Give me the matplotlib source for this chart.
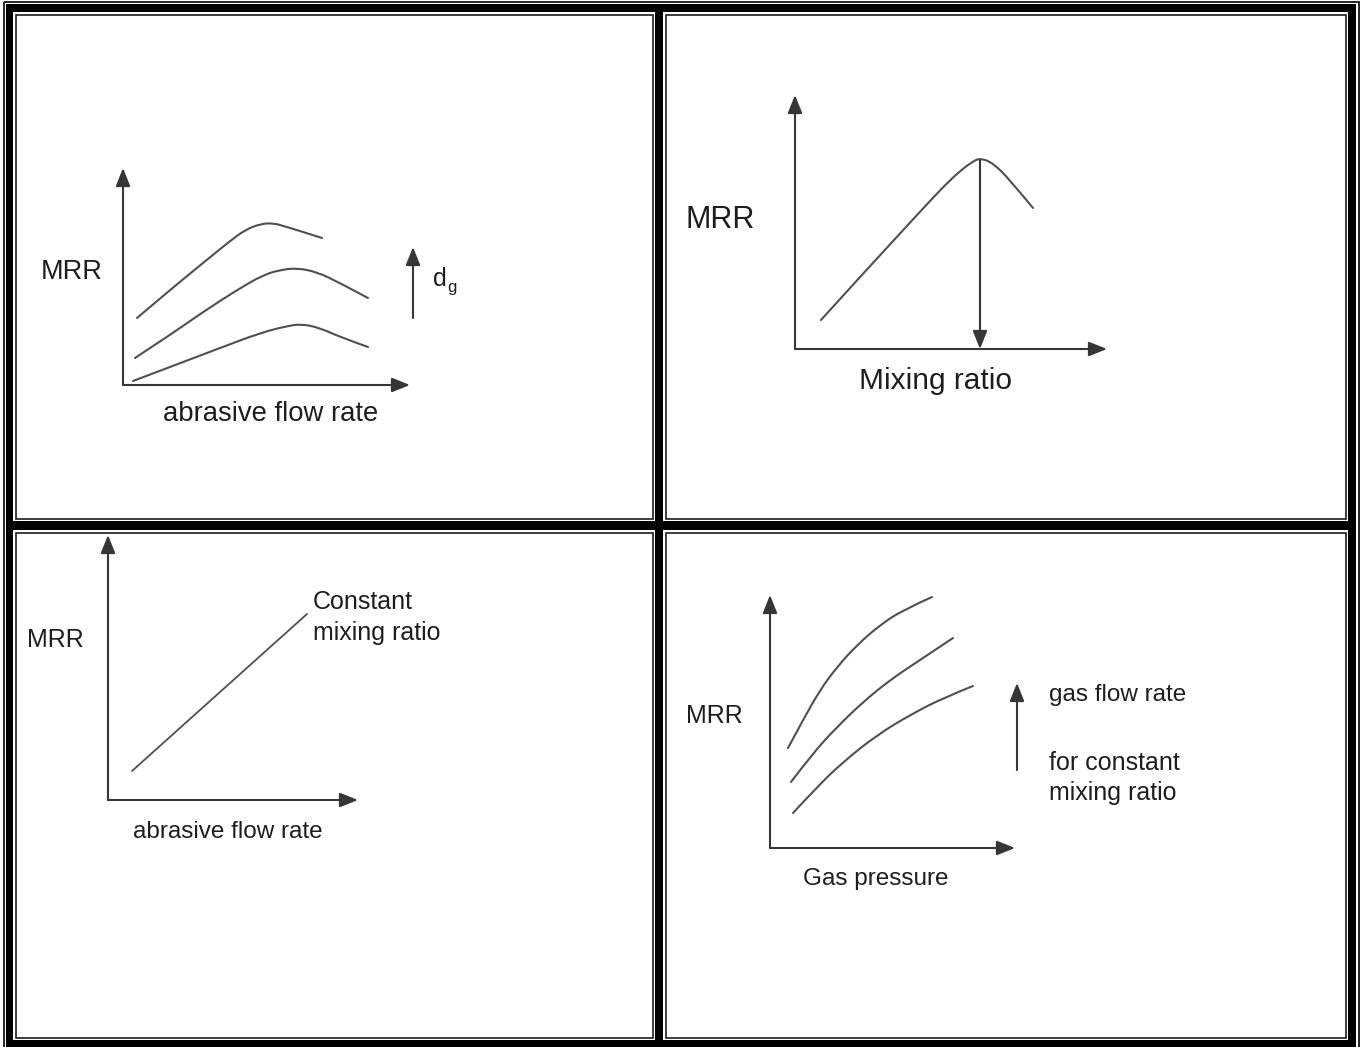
import matplotlib.pyplot as plt
from matplotlib.patches import Rectangle, PathPatch
from matplotlib.path import Path

# figure size in pixels
W, H = 1360, 1047

# --- data (pixel units, measured from each sketch's origin, y upwards) ---
# top-left: MRR vs abrasive flow rate for three grit sizes
tl_x_top = [14, 47, 80, 107, 122, 137, 150, 164, 180, 199]
tl_y_top = [67, 95, 122, 144, 155, 161, 162, 158, 153, 147]
tl_x_mid = [12, 47, 80, 114, 140, 157, 174, 194, 217, 245]
tl_y_mid = [27, 50, 73, 95, 110, 115, 117, 113, 102, 87]
tl_x_low = [10, 47, 97, 137, 164, 179, 197, 217, 245]
tl_y_low = [4, 18, 37, 52, 59, 61, 57, 48, 38]

# top-right: MRR vs mixing ratio
tr_x = [26, 55, 88, 122, 148, 165, 177, 185, 198, 215, 238]
tr_y = [29, 61, 97, 134, 162, 178, 187, 191, 186, 169, 141]

# bottom-left: MRR vs abrasive flow rate (constant mixing ratio)
bl_x = [24, 199]
bl_y = [29, 186]

# bottom-right: MRR vs gas pressure for three gas flow rates
br_x_top = [18, 33, 50, 67, 87, 110, 133, 162]
br_y_top = [100, 128, 158, 181, 203, 223, 238, 251]
br_x_mid = [21, 43, 67, 93, 120, 150, 183]
br_y_mid = [66, 95, 121, 146, 168, 188, 210]
br_x_low = [23, 47, 73, 107, 140, 173, 203]
br_y_low = [35, 61, 86, 113, 133, 150, 162]

# panel boxes (left, top, right, bottom) and sketch origins, in image pixels
panels = [(16, 14.7, 652.5, 518.8), (666, 14.7, 1345.5, 518.8),
          (16, 532.8, 652.5, 1037.5), (666, 532.8, 1345.5, 1037.5)]
origins = [(123, 385), (795, 349), (108, 800), (770, 848)]

fig = plt.figure(figsize=(W / 100, H / 100), dpi=100)
fig.patch.set_facecolor('white')

# background frame
bg = fig.add_axes([0, 0, 1, 1])
bg.set_xlim(0, W)
bg.set_ylim(H, 0)
bg.axis('off')
bg.add_patch(Rectangle((3.5, 1.7), 1355.3, 1060, fill=False, ec='black', lw=1.2))
bg.add_patch(Rectangle((6, 4), 1350, 1060, fc='black', ec='none'))
for l, t, r, b in panels:
    bg.add_patch(Rectangle((l - 2.6, t - 2.6), r - l + 5.2, b - t + 5.2, fc='white', ec='none'))
    bg.add_patch(Rectangle((l, t), r - l, b - t, fill=False, ec='#1c1c1c', lw=1.2))


def panel_axes(box, origin):
    l, t, r, b = box
    ox, oy = origin
    ax = fig.add_axes([l / W, 1 - b / H, (r - l) / W, (b - t) / H])
    ax.set_xlim(l - ox, r - ox)
    ax.set_ylim(oy - b, oy - t)
    ax.axis('off')
    return ax


AX_C = '#363636'
CURVE_C = '#505050'


def arrow(ax, start, end, ms=20):
    ax.annotate('', xy=end, xytext=start,
                arrowprops=dict(arrowstyle='-|>,head_length=0.55,head_width=0.22',
                                color=AX_C, lw=1.5, mutation_scale=ms,
                                shrinkA=0, shrinkB=0))


def sketch_axes(ax, xtip, ytip):
    arrow(ax, (0, 0), (0, ytip))
    arrow(ax, (0, 0), (xtip, 0))


def curve(ax, xs, ys, lw=1.5):
    # smooth hand-drawn look: quadratic bezier path through the read points
    pts = list(zip(xs, ys))
    verts = [pts[0]]
    codes = [Path.MOVETO]
    for i in range(1, len(pts) - 1):
        nxt = ((pts[i][0] + pts[i + 1][0]) / 2, (pts[i][1] + pts[i + 1][1]) / 2)
        if i == len(pts) - 2:
            nxt = pts[-1]
        verts += [pts[i], nxt]
        codes += [Path.CURVE3, Path.CURVE3]
    if len(pts) == 2:
        verts.append(pts[1])
        codes.append(Path.LINETO)
    ax.add_patch(PathPatch(Path(verts, codes), fill=False, ec=CURVE_C, lw=lw,
                           capstyle='round', joinstyle='round'))


# top-left
ax = panel_axes(panels[0], origins[0])
sketch_axes(ax, 287, 217)
for xs, ys in [(tl_x_top, tl_y_top), (tl_x_mid, tl_y_mid), (tl_x_low, tl_y_low)]:
    curve(ax, xs, ys)
arrow(ax, (290, 67), (290, 138))

# top-right
ax = panel_axes(panels[1], origins[1])
sketch_axes(ax, 312, 254)
curve(ax, tr_x, tr_y)
peak = tr_y.index(max(tr_y))
arrow(ax, (tr_x[peak], tr_y[peak] - 2), (tr_x[peak], 0))

# bottom-left
ax = panel_axes(panels[2], origins[2])
sketch_axes(ax, 250, 265)
curve(ax, bl_x, bl_y, lw=1.3)

# bottom-right
ax = panel_axes(panels[3], origins[3])
sketch_axes(ax, 245, 253)
for xs, ys in [(br_x_top, br_y_top), (br_x_mid, br_y_mid), (br_x_low, br_y_low)]:
    curve(ax, xs, ys)
arrow(ax, (247, 78), (247, 165))

# labels
TXT = '#1e1e1e'
wide = ['Liberation Sans', 'DejaVu Sans']
narrow = ['Liberation Sans Narrow', 'Liberation Sans', 'DejaVu Sans']


def label(x, y, s, size, family):
    bg.text(x, y, s, fontsize=size, family=family, color=TXT, ha='left', va='baseline')


label(41, 279, 'MRR', 19.5, wide)
label(163, 421, 'abrasive flow rate', 19.8, wide)
label(433, 286, 'd', 18, wide)
label(447, 292, 'g', 12, wide)

label(686, 228, 'MRR', 22, wide)
label(859, 389, 'Mixing ratio', 21.5, wide)

label(27, 647, 'MRR', 18, narrow)
label(313, 609, 'Constant', 18, narrow)
label(313, 640, 'mixing ratio', 18, narrow)
label(133, 838, 'abrasive flow rate', 17.5, narrow)

label(686, 723, 'MRR', 18, narrow)
label(1049, 701, 'gas flow rate', 17.5, narrow)
label(1049, 770, 'for constant', 18, narrow)
label(1049, 800, 'mixing ratio', 18, narrow)
label(803, 885, 'Gas pressure', 17.5, narrow)

fig.savefig('out.png', dpi=100)
